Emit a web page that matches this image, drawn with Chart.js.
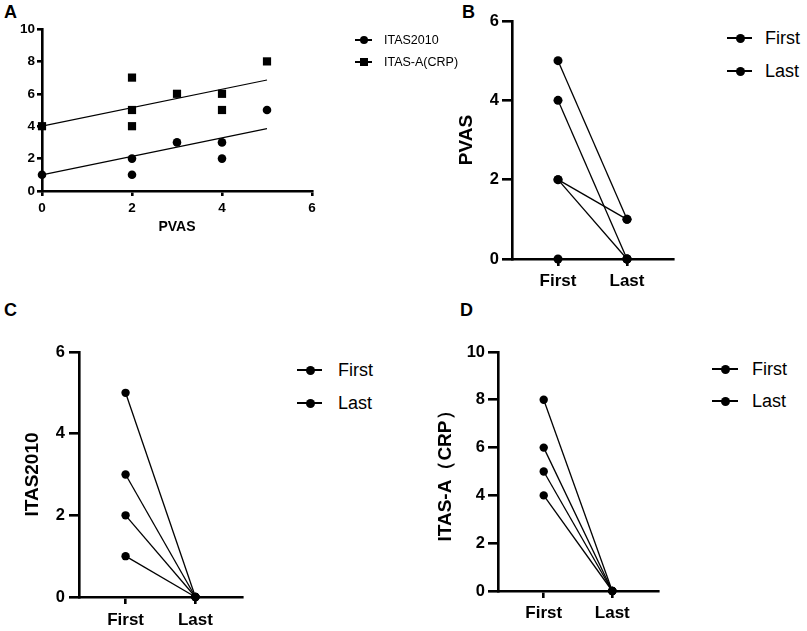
<!DOCTYPE html>
<html lang="en">
<head>
<meta charset="utf-8">
<title>PVAS / ITAS2010 / ITAS-A(CRP)</title>
<script src="https://cdn.jsdelivr.net/npm/chart.js@4.4.1/dist/chart.umd.min.js"></script>
<style>
  body { margin: 0; background: #fff; font-family: "Liberation Sans", Arial, sans-serif; color: #000; }
  #page { position: relative; width: 807px; height: 631px; overflow: hidden; }
  .panneau { position: absolute; }
  .lettre { position: absolute; font-size: 18px; font-weight: bold; line-height: 18px; }
  .leg { position: absolute; height: 20px; line-height: 20px; white-space: nowrap; }
  .leg .trait { position: absolute; top: 9.25px; left: 0; height: 1.5px; background: #000; }
  .leg .rond { position: absolute; border-radius: 50%; background: #000; }
  .leg .carre { position: absolute; background: #000; }
  .leg .txt { position: absolute; top: 0; }
</style>
</head>
<body>
<div id="page">
  <div class="lettre" style="left:4px;top:3px">A</div>
  <div class="lettre" style="left:462px;top:3px">B</div>
  <div class="lettre" style="left:4px;top:301px">C</div>
  <div class="lettre" style="left:460px;top:301px">D</div>

  <div class="panneau" style="left:0;top:0;width:330px;height:245px"><canvas id="graphA"></canvas></div>
  <div class="panneau" style="left:430px;top:0;width:260px;height:300px"><canvas id="graphB"></canvas></div>
  <div class="panneau" style="left:0;top:290px;width:260px;height:341px"><canvas id="graphC"></canvas></div>
  <div class="panneau" style="left:410px;top:290px;width:260px;height:341px"><canvas id="graphD"></canvas></div>
</div>
<script>
// ---- Panneau A : scores en fonction de PVAS
const pvasX = [0, 2, 2, 3, 4, 4, 5];
const itas2010Y = [1, 1, 2, 3, 2, 3, 5];
const crpX = [0, 2, 2, 2, 3, 4, 4, 5];
const crpY = [4, 4, 5, 7, 6, 5, 6, 8];
// droites de tendance (extrémités)
const droiteX = [0, 5];
const droiteItas = [1.0, 3.85];
const droiteCrp = [4.0, 6.85];
const ticksAX = [0, 2, 4, 6];
const ticksAY = [0, 2, 4, 6, 8, 10];
const seriesA = ["ITAS2010", "ITAS-A(CRP)"];

// ---- Panneaux B, C, D : première / dernière visite
const moments = ["First", "Last"];
const pvasFirst = [5, 4, 2, 2, 0];
const pvasLast = [1, 0, 1, 0, 0];
const itasFirst = [5, 3, 2, 1];
const itasLast = [0, 0, 0, 0];
const crpFirst = [8, 6, 5, 4];
const crpLast = [0, 0, 0, 0];
const ticks6 = [0, 2, 4, 6];
const ticks10 = [0, 2, 4, 6, 8, 10];

Chart.defaults.font.family = "'Liberation Sans', Arial, sans-serif";
Chart.defaults.color = "#000";

// axe linéaire avec ticks imposés
function axe(min, max, valeurs, etiquette, r) {
    return {
        type: "linear",
        min: min,
        max: max,
        afterBuildTicks: s => { s.ticks = valeurs.map(v => ({ value: v })); },
        afterFit: s => { if (s.isHorizontal()) { s.height = r.taille; } else { s.width = r.taille; } },
        grid: { drawOnChartArea: false, drawTicks: true, tickLength: r.tick, tickWidth: 2.6, tickColor: "#000", color: "#000", lineWidth: 2.6 },
        border: { display: true, color: "#000", width: 2.6 },
        ticks: { padding: r.pad, font: { size: r.police, weight: "bold" }, color: "#000", maxRotation: 0, autoSkip: false, callback: etiquette },
        title: r.titre
            ? { display: true, text: r.titre, color: "#000", font: { size: r.policeTitre, weight: "bold" }, padding: r.padTitre }
            : { display: false }
    };
}

function graphique(id, datasets, padding, axeX, axeY) {
    return new Chart(document.getElementById(id), {
        type: "scatter",
        data: { datasets: datasets },
        options: {
            responsive: true,
            maintainAspectRatio: false,
            animation: false,
            layout: { padding: padding, autoPadding: false },
            plugins: { legend: { display: false }, tooltip: { enabled: false } },
            scales: { x: axeX, y: axeY }
        }
    });
}

// une ligne par patient : First -> Last
function paires(premier, dernier, rayon) {
    return premier.map((v, i) => ({
        data: [{ x: 0, y: v }, { x: 1, y: dernier[i] }],
        showLine: true,
        borderColor: "#000",
        borderWidth: 1.3,
        pointRadius: rayon,
        pointBackgroundColor: "#000",
        pointBorderWidth: 0,
        clip: false
    }));
}

// légende HTML (trait + marqueur + texte)
function legende(noms, formes, g) {
    const page = document.getElementById("page");
    noms.forEach((nom, i) => {
        const ligne = document.createElement("div");
        ligne.className = "leg";
        ligne.style.left = g.x + "px";
        ligne.style.top = (g.y + i * g.pas - 10) + "px";
        ligne.style.fontSize = g.police + "px";
        const m = g.marque;
        ligne.innerHTML =
            `<span class="trait" style="width:${g.trait}px"></span>` +
            `<span class="${formes[i]}" style="width:${m}px;height:${m}px;left:${g.centre - m / 2}px;top:${10 - m / 2}px"></span>` +
            `<span class="txt" style="left:${g.texte}px">${nom}</span>`;
        page.appendChild(ligne);
    });
}

// ---------------- A
graphique("graphA", [
    { data: pvasX.map((x, i) => ({ x: x, y: itas2010Y[i] })), pointStyle: "circle", pointRadius: 4.3,
      pointBackgroundColor: "#000", pointBorderWidth: 0, clip: false },
    { data: crpX.map((x, i) => ({ x: x, y: crpY[i] })), pointStyle: "rect", pointRadius: 5.8,
      pointBackgroundColor: "#000", pointBorderWidth: 0, clip: false },
    { data: droiteX.map((x, i) => ({ x: x, y: droiteItas[i] })), showLine: true, pointRadius: 0,
      borderColor: "#000", borderWidth: 1.2, clip: false },
    { data: droiteX.map((x, i) => ({ x: x, y: droiteCrp[i] })), showLine: true, pointRadius: 0,
      borderColor: "#000", borderWidth: 1.2, clip: false }
], { left: 0, top: 29, right: 18, bottom: 0 },
    axe(0, 6, ticksAX, v => v, { taille: 54, tick: 5, pad: 4, police: 13.5, titre: "PVAS", policeTitre: 14, padTitre: { top: 0, bottom: 9 } }),
    axe(0, 10, ticksAY, v => v, { taille: 42, tick: 5, pad: 2, police: 13.5 })
);
legende(seriesA, ["rond", "carre"], { x: 355, y: 40, pas: 22, trait: 17, centre: 8.5, texte: 29, police: 12.5, marque: 8 });

// ---------------- B
graphique("graphB", paires(pvasFirst, pvasLast, 4.5), { left: 0, top: 21, right: 17, bottom: 0 },
    axe(-2 / 3, 5 / 3, [0, 1], v => moments[v], { taille: 41, tick: 7, pad: 5, police: 17 }),
    axe(0, 6, ticks6, v => v, { taille: 82, tick: 10, pad: 3, police: 16.5, titre: "PVAS", policeTitre: 19, padTitre: { top: 25.6, bottom: 0 } })
);
legende(moments, ["rond", "rond"], { x: 727, y: 38, pas: 33, trait: 25, centre: 13, texte: 38, police: 18, marque: 9 });

// ---------------- C
graphique("graphC", paires(itasFirst, itasLast, 4.2), { left: 0, top: 62, right: 18, bottom: 0 },
    axe(-2 / 3, 5 / 3, [0, 1], v => moments[v], { taille: 34, tick: 7, pad: 6, police: 17 }),
    axe(0, 6, ticks6, v => v, { taille: 79, tick: 10, pad: 4, police: 16.5, titre: "ITAS2010", policeTitre: 19, padTitre: { top: 21.6, bottom: 0 } })
);
legende(moments, ["rond", "rond"], { x: 297, y: 370, pas: 33, trait: 25, centre: 13, texte: 41, police: 18, marque: 9 });

// ---------------- D
graphique("graphD", paires(crpFirst, crpLast, 4.2), { left: 0, top: 62, right: 12, bottom: 0 },
    axe(-2 / 3, 5 / 3, [0, 1], v => moments[v], { taille: 40, tick: 7, pad: 5, police: 17 }),
    axe(0, 10, ticks10, v => v, { taille: 88, tick: 10, pad: 3, police: 16.5, titre: "ITAS-A（CRP）", policeTitre: 19, padTitre: { top: 24, bottom: 0 } })
);
legende(moments, ["rond", "rond"], { x: 712, y: 369, pas: 32, trait: 26, centre: 13, texte: 40, police: 18, marque: 9 });
</script>
</body>
</html>
